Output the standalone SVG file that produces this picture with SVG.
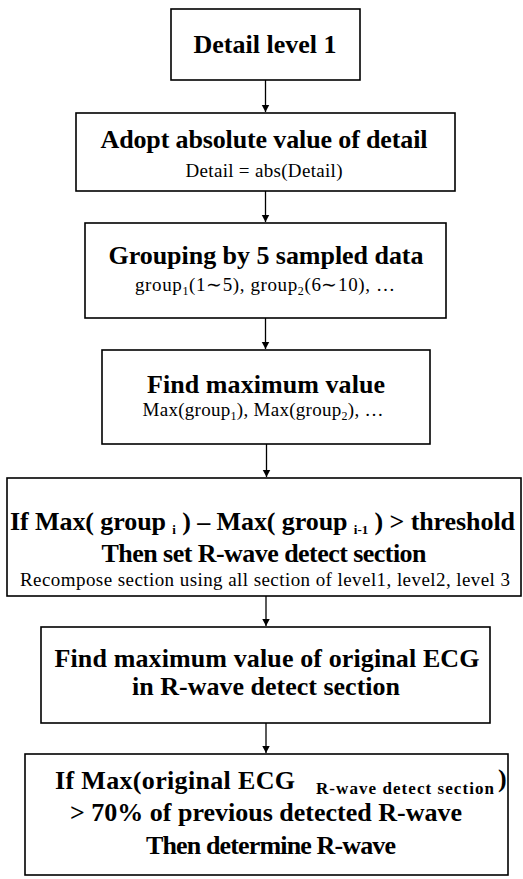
<svg xmlns="http://www.w3.org/2000/svg" width="523" height="879" viewBox="0 0 523 879">
<style>
.box{fill:#fff;stroke:#000;stroke-width:1.6}
.b{font-family:"Liberation Serif","Times New Roman",serif;font-weight:bold;font-size:26px;fill:#000}
.r{font-family:"Liberation Serif","Times New Roman",serif;font-size:19px;fill:#000}
.sb{font-size:13px}
.sr{font-size:12px}
.c{text-anchor:middle}
.edge{stroke:#000;stroke-width:1.3;fill:none}
</style>
<defs>
<marker id="ah" markerWidth="8" markerHeight="9" refX="7.5" refY="4.5" orient="auto" markerUnits="userSpaceOnUse">
<path d="M0,0.5 L7.5,4.5 L0,8.5 Z" fill="#000"/>
</marker>
</defs>
<rect width="523" height="879" fill="#fff"/>
<g id="connectors">
<line class="edge" x1="265.5" y1="80" x2="265.5" y2="112" marker-end="url(#ah)"/>
<line class="edge" x1="265.5" y1="191" x2="265.5" y2="222" marker-end="url(#ah)"/>
<line class="edge" x1="265.5" y1="318" x2="265.5" y2="349" marker-end="url(#ah)"/>
<line class="edge" x1="266.5" y1="444" x2="266.5" y2="477" marker-end="url(#ah)"/>
<line class="edge" x1="266" y1="596" x2="266" y2="626" marker-end="url(#ah)"/>
<line class="edge" x1="266" y1="723" x2="266" y2="753" marker-end="url(#ah)"/>
</g>
<g id="n1">
<rect class="box" x="171" y="9" width="189" height="71"/>
<text class="b c" x="265" y="53" textLength="143">Detail level 1</text>
</g>
<g id="n2">
<rect class="box" x="76" y="113" width="379" height="78"/>
<text class="b c" x="264" y="148" textLength="327">Adopt absolute value of detail</text>
<text class="r c" x="264" y="177" textLength="157">Detail = abs(Detail)</text>
</g>
<g id="n3">
<rect class="box" x="85" y="223" width="361" height="95"/>
<text class="b c" x="266" y="264" textLength="315">Grouping by 5 sampled data</text>
<text class="r c" x="265" y="291" textLength="260">group<tspan class="sr" dy="4">1</tspan><tspan dy="-4">(1∼5), group</tspan><tspan class="sr" dy="4">2</tspan><tspan dy="-4">(6∼10), …</tspan></text>
</g>
<g id="n4">
<rect class="box" x="102" y="350" width="328" height="94"/>
<text class="b c" x="266" y="393" textLength="238">Find maximum value</text>
<text class="r c" x="263" y="416" textLength="241">Max(group<tspan class="sr" dy="4">1</tspan><tspan dy="-4">), Max(group</tspan><tspan class="sr" dy="4">2</tspan><tspan dy="-4">), …</tspan></text>
</g>
<g id="n5">
<rect class="box" x="7" y="478" width="514" height="118"/>
<text class="b" x="10" y="530" textLength="505">If Max( group <tspan class="sb" dy="4">i</tspan><tspan dy="-4"> ) – Max( group </tspan><tspan class="sb" dy="4">i-1</tspan><tspan dy="-4"> ) &gt; threshold</tspan></text>
<text class="b c" x="264" y="562" textLength="325">Then set R-wave detect section</text>
<text class="r c" x="265" y="586" textLength="490">Recompose section using all section of level1, level2, level 3</text>
</g>
<g id="n6">
<rect class="box" x="41" y="627" width="449" height="96"/>
<text class="b c" x="267" y="667" textLength="425">Find maximum value of original ECG</text>
<text class="b c" x="266" y="695" textLength="268">in R-wave detect section</text>
</g>
<g id="n7">
<rect class="box" x="25" y="754" width="483" height="121"/>
<text class="b" x="55" y="789" textLength="240">If Max(original ECG</text>
<text class="b" style="font-size:17px" x="316" y="794" textLength="178">R-wave detect section</text>
<text class="b" x="498" y="787">)</text>
<text class="b c" x="266" y="821" textLength="392">&gt; 70% of previous detected R-wave</text>
<text class="b c" x="271" y="854" textLength="250">Then determine R-wave</text>
</g>
</svg>
